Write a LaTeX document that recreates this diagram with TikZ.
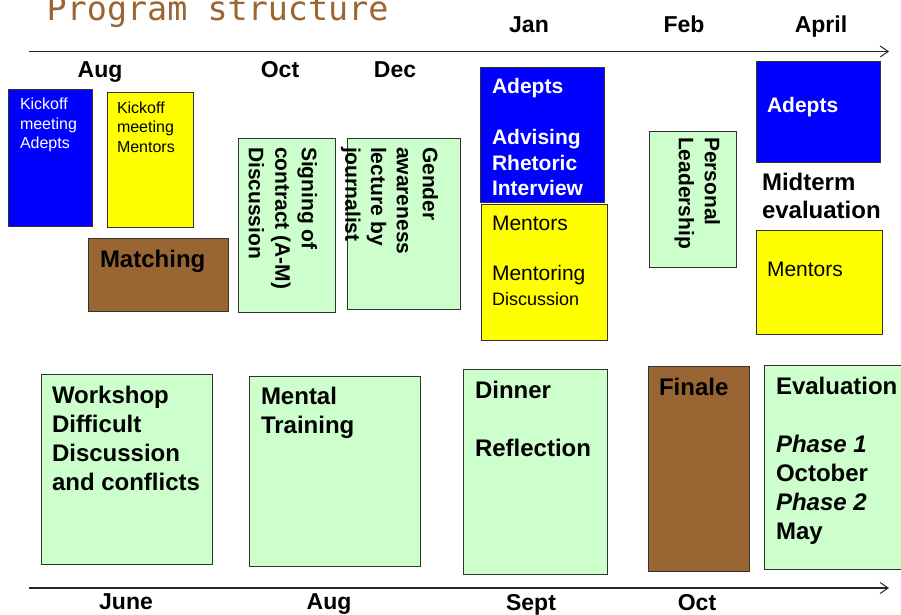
\documentclass[tikz,border=0pt]{standalone}
\usepackage{fontspec}
\setmainfont{Liberation Sans}
\newfontfamily\titlefont{DejaVu Sans Mono}
\usetikzlibrary{arrows.meta}

\definecolor{boxblue}{HTML}{0000FF}
\definecolor{boxyellow}{HTML}{FFFF00}
\definecolor{boxgreen}{HTML}{CCFFCC}
\definecolor{boxbrown}{HTML}{996633}
\definecolor{titlebrown}{HTML}{9B6632}
\definecolor{edgegray}{HTML}{333333}

\newcommand\fsz[2]{\fontsize{#1}{#2}\selectfont}
% \panelbox{style}{x1}{y1}{x2}{y2}{name}
\newcommand\panelbox[6]{%
  \node[#1, minimum width=#4-#2, minimum height=#5-#3] (#6) at (#2,#3) {};}

\tikzset{
  panel/.style={draw=edgegray, line width=0.9pt, inner sep=0pt, outer sep=0pt, anchor=north west},
  bluebox/.style={panel, fill=boxblue},
  yellowbox/.style={panel, fill=boxyellow},
  greenbox/.style={panel, fill=boxgreen},
  brownbox/.style={panel, fill=boxbrown},
  txt/.style={anchor=north west, inner sep=0pt, outer sep=0pt, align=left},
  vtxt/.style={txt, rotate=-90},
  month/.style={anchor=base, inner sep=0pt, font=\fsz{23}{27}\bfseries},
  axis/.style={line width=1.2pt, draw=black!85, -{Straight Barb[length=8pt, width=11pt, line width=1pt]}},
}

\begin{document}
\begin{tikzpicture}[x=1pt, y=-1pt]
  \useasboundingbox (0,0) rectangle (901,614);
  \fill[white] (0,0) rectangle (901,614);

  % title
  \node[anchor=base west, inner sep=0pt, text=titlebrown, font=\titlefont\fsz{33.4}{38}] (title) at (46.5,20) {Program structure};

  % time axes
  \coordinate (topstart) at (29,51.5);
  \coordinate (topend) at (889,51.5);
  \coordinate (botstart) at (29,588);
  \coordinate (botend) at (889,588);
  \draw[axis] (topstart) -- (topend);
  \draw[axis] (botstart) -- (botend);

  % month labels, upper row
  \node[month] (mAug) at (100,77) {Aug};
  \node[month] (mOct) at (280,77) {Oct};
  \node[month] (mDec) at (395,77) {Dec};
  \node[month] (mJan) at (529,32) {Jan};
  \node[month] (mFeb) at (684,32) {Feb};
  \node[month] (mApr) at (821,32) {April};
  % month labels, lower row
  \node[month] (mJune) at (126,609) {June};
  \node[month] (mAug2) at (329,609) {Aug};
  \node[month] (mSept) at (531,610) {Sept};
  \node[month] (mOct2) at (697,610) {Oct};

  % --- upper activities ---
  \panelbox{bluebox}{8}{89}{92}{226}{kad}
  \node[txt, text=white, font=\fsz{16}{19.5}] (kadt) at ([shift={(12,9)}]kad.north west) {Kickoff\\meeting\\Adepts};

  \panelbox{yellowbox}{107}{92}{193}{227}{kmen}
  \node[txt, font=\fsz{16}{19.3}] (kment) at ([shift={(10,10)}]kmen.north west) {Kickoff\\meeting\\Mentors};

  \panelbox{brownbox}{88}{238}{228}{311}{match}
  \node[txt, font=\fsz{24}{28}\bfseries] (matcht) at ([shift={(12,12)}]match.north west) {Matching};

  \panelbox{greenbox}{238}{138}{335}{312}{sign}
  \node[vtxt, font=\fsz{21}{26.5}\bfseries] (signt) at ([shift={(-18,9)}]sign.north east) {Signing of\\contract (A-M)\\Discussion};

  \panelbox{greenbox}{347}{138}{460}{309}{gender}
  \node[vtxt, font=\fsz{21}{25.8}\bfseries] (gendert) at ([shift={(-22,9)}]gender.north east) {Gender\\awareness\\lecture by\\journalist};

  \panelbox{bluebox}{480}{67}{604}{202}{jad}
  \node[txt, text=white, font=\fsz{21}{25.5}\bfseries] (jadt) at ([shift={(12,11.5)}]jad.north west) {Adepts\\[25.5pt]Advising\\Rhetoric\\Interview};

  \panelbox{yellowbox}{481}{204}{607}{340}{jmen}
  \node[txt, font=\fsz{21}{25}] (jment) at ([shift={(11,12.5)}]jmen.north west) {Mentors\\[25pt]Mentoring\\{\fsz{18}{24}Discussion}};

  \panelbox{greenbox}{649}{131}{736}{267}{lead}
  \node[vtxt, font=\fsz{21}{26}\bfseries] (leadt) at ([shift={(-16,6)}]lead.north east) {Personal\\Leadership};

  \panelbox{bluebox}{756}{61}{880}{162}{aad}
  \node[txt, text=white, font=\fsz{21}{25}\bfseries] (aadt) at ([shift={(11,36.5)}]aad.north west) {Adepts};

  \node[txt, font=\fsz{24}{28}\bfseries] (midterm) at (762,173.5) {Midterm\\evaluation};

  \panelbox{yellowbox}{756}{230}{882}{334}{amen}
  \node[txt, font=\fsz{21}{25}] (ament) at ([shift={(11,32)}]amen.north west) {Mentors};

  % --- lower activities ---
  \panelbox{greenbox}{41}{374}{212}{564}{work}
  \node[txt, font=\fsz{24}{28.7}\bfseries] (workt) at ([shift={(11,12.5)}]work.north west) {Workshop\\Difficult\\Discussion\\and conflicts};

  \panelbox{greenbox}{249}{376}{420}{566}{mental}
  \node[txt, font=\fsz{24}{28.7}\bfseries] (mentalt) at ([shift={(12,11)}]mental.north west) {Mental\\Training};

  \panelbox{greenbox}{463}{369}{607}{574}{dinner}
  \node[txt, font=\fsz{24}{29}\bfseries] (dinnert) at ([shift={(12,12.5)}]dinner.north west) {Dinner\\[29pt]Reflection};

  \panelbox{brownbox}{648}{366}{749}{571}{finale}
  \node[txt, font=\fsz{24}{29}\bfseries] (finalet) at ([shift={(11,12)}]finale.north west) {Finale};

  \panelbox{greenbox}{764}{365}{912}{569}{eval}
  \node[txt, font=\fsz{24}{29}\bfseries] (evalt) at ([shift={(12,12)}]eval.north west) {Evaluation\\[29pt]\textit{Phase 1}\\October\\\textit{Phase 2}\\May};
\end{tikzpicture}
\end{document}
